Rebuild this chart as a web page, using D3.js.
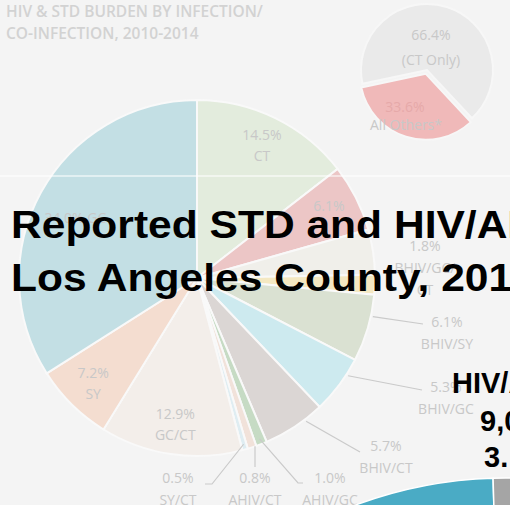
<!DOCTYPE html>
<html>
<head>
<meta charset="utf-8">
<script src="https://cdn.jsdelivr.net/npm/d3@7"></script>
<style>
  body { margin: 0; background: #f4f4f4; overflow: hidden; }
  svg { display: block; }
</style>
</head>
<body>
<svg id="scene"></svg>
<script>
const width = 510
const height = 505

// main pie, clockwise from 12 o'clock
var sliceNames = ["CT", "", "", "BHIV/GC/CT", "BHIV/SY", "BHIV/GC", "BHIV/CT", "AHIV/GC", "AHIV/CT", "SY/CT", "GC/CT", "SY", "GC"]
var sliceValues = [14.5, 6.1, 4.1, 1.8, 6.1, 5.3, 5.7, 1.0, 0.8, 0.5, 12.9, 7.2, 34.0]
var sliceColors = ["#e3ecdd", "#ecc6c6", "#f0efea", "#f4e8c2", "#dae1d2", "#cdeaef", "#dbd6d4", "#c6dbc4", "#f1e2da", "#dfedf2", "#f3eeea", "#f4ddd0", "#c3dfe4"]

// inset pie
var insetNames = ["(CT Only)", "All Others*"]
var insetValues = [66.4, 33.6]

// cropped HIV/AIDS chart at the bottom right
var hivNames = ["HIV/AIDS", "Other"]
var hivValues = [70, 30]
var hivLines = ["HIV/AIDS", "9,0", "3."]

var svg = d3.select("#scene").attr("width", width).attr("height", height)

svg.append("rect").attr("width", width).attr("height", height).attr("fill", "#f4f4f4")

// faded slide title
svg.append("text")
    .attr("x", 6).attr("y", 17)
    .style("font-family", "Open Sans").style("font-weight", 600).style("font-size", "15.5px")
    .style("fill", "#d2d2d2")
    .text("HIV & STD BURDEN BY INFECTION/")
svg.append("text")
    .attr("x", 6).attr("y", 39)
    .style("font-family", "Open Sans").style("font-weight", 600).style("font-size", "15.5px")
    .style("fill", "#d2d2d2")
    .text("CO-INFECTION, 2010-2014")

// ---- main pie
var cx = 197, cy = 278, R = 178
var pie = d3.pie().sort(null).value(function(d) { return d })
var arcs = pie(sliceValues)
var arc = d3.arc().innerRadius(0).outerRadius(R)
var g = svg.append("g").attr("transform", "translate(" + cx + "," + cy + ")")

g.selectAll("path")
    .data(arcs)
    .enter()
    .append("path")
    .attr("d", arc)
    .attr("fill", function(d, i) { return sliceColors[i] })
    .attr("stroke", "#f9f9f9")
    .attr("stroke-width", 2)

// faint slide seam
svg.append("line")
    .attr("x1", 0).attr("x2", width).attr("y1", 176).attr("y2", 176)
    .attr("stroke", "#ffffff").attr("stroke-opacity", 0.7).attr("stroke-width", 1.5)

var labelFont = function(sel) {
    sel.style("font-family", "Open Sans").style("font-size", "14px")
        .style("fill", "#c8c8c8").attr("text-anchor", "middle")
}
function pct(v) { return v.toFixed(1) + "%" }

// inside labels
var inside = [0, 1, 10, 11]
var labelArc = d3.arc().innerRadius(R * 0.83).outerRadius(R * 0.83)
inside.forEach(function(i) {
    var c = labelArc.centroid(arcs[i])
    var t = g.append("text").call(labelFont)
    if (sliceNames[i] == "") {
        t.attr("x", c[0]).attr("y", c[1]).text(pct(sliceValues[i]))
    } else {
        t.attr("x", c[0]).attr("y", c[1] - 5).text(pct(sliceValues[i]))
        g.append("text").call(labelFont).attr("x", c[0]).attr("y", c[1] + 16).text(sliceNames[i])
    }
})
// GC label sits on one line
var gcPos = d3.arc().innerRadius(R * 0.78).outerRadius(R * 0.78).centroid(arcs[12])
g.append("text").call(labelFont).attr("x", gcPos[0]).attr("y", gcPos[1] + 12)
    .text(pct(sliceValues[12]) + " " + sliceNames[12])

// outside labels with leader lines: [slice, label x, first baseline, elbow x, elbow y]
var outside = [
    [3, 425, 251, null, null],
    [4, 447, 327, 423, 324],
    [5, 446, 392, 422, 390],
    [6, 386, 451, 360, 452],
    [7, 330, 483, 303, 483],
    [8, 255, 483, 255, 467],
    [9, 178, 483, 205, 484]
]
outside.forEach(function(o) {
    var a = arcs[o[0]]
    var mid = (a.startAngle + a.endAngle) / 2 - (o[0] >= 4 && o[0] <= 6 ? 0.07 : 0)
    if (o[3] != null) {
        var r0 = o[0] >= 7 ? R * 0.97 : R + 2
        var sx = cx + Math.sin(mid) * r0, sy = cy - Math.cos(mid) * r0
        var pts = [[sx, sy], [o[3], o[4]]]
        if (o[0] == 7) pts = [[sx, sy], [298, 483], [o[3], o[4]]]
        if (o[0] == 9) pts = [[sx, sy], [212, 484], [o[3], o[4]]]
        if (o[0] == 8) pts = [[o[1], sy + 4], [o[3], o[4]]]
        svg.append("path")
            .attr("d", d3.line()(pts))
            .attr("fill", "none").attr("stroke", "#cacaca").attr("stroke-width", 1.2)
    }
    svg.append("text").call(labelFont).attr("x", o[1]).attr("y", o[2]).text(pct(sliceValues[o[0]]))
    var parts = sliceNames[o[0]] == "BHIV/GC/CT" ? ["BHIV/GC/", "CT"] : [sliceNames[o[0]]]
    parts.forEach(function(p, k) {
        svg.append("text").call(labelFont).attr("x", o[1]).attr("y", o[2] + 22 * (k + 1)).text(p)
    })
})

// ---- inset pie
var icx = 427, icy = 70, iR = 66
var ipie = d3.pie().sort(null).value(function(d) { return d })
    .startAngle(258 * Math.PI / 180).endAngle((258 + 360) * Math.PI / 180)
var iarcs = ipie(insetValues)
var iarc = d3.arc().innerRadius(0).outerRadius(iR)
var ig = svg.append("g").attr("transform", "translate(" + icx + "," + icy + ")")
ig.selectAll("path")
    .data(iarcs)
    .enter()
    .append("path")
    .attr("d", iarc)
    .attr("transform", function(d, i) {
        if (i == 0) return null
        var m = (d.startAngle + d.endAngle) / 2
        return "translate(" + (Math.sin(m) * 4) + "," + (-Math.cos(m) * 4) + ")"
    })
    .attr("fill", function(d, i) { return i == 0 ? "#eaeaea" : "#f0b9b9" })
    .attr("stroke", "#f7f7f7").attr("stroke-width", 2)

svg.append("text").call(labelFont).attr("x", 431).attr("y", 40).text(pct(insetValues[0]))
svg.append("text").call(labelFont).attr("x", 431).attr("y", 65).text(insetNames[0])
svg.append("text").call(labelFont).style("fill", "#e6a9a9").attr("x", 405).attr("y", 112).text(pct(insetValues[1]))
svg.append("text").call(labelFont).attr("x", 406).attr("y", 130).text(insetNames[1])

// ---- foreground slide title
var title = svg.append("g").attr("transform", "translate(11,0) scale(1.12,1)")
title.append("text").attr("x", 0).attr("y", 238)
    .style("font-family", "Liberation Sans, Arial").style("font-weight", "bold").style("font-size", "38px")
    .style("fill", "#000")
    .text("Reported STD and HIV/AIDS")
title.append("text").attr("x", 0).attr("y", 291)
    .style("font-family", "Liberation Sans, Arial").style("font-weight", "bold").style("font-size", "38px")
    .style("fill", "#000")
    .text("Los Angeles County, 2014")

// ---- cropped HIV/AIDS pie
var hcx = 505, hcy = 905, hR = 427
var hpie = d3.pie().sort(null).value(function(d) { return d })
    .startAngle(-1.6 * Math.PI / 180 - 2 * Math.PI * 0.7).endAngle(-1.6 * Math.PI / 180 + 2 * Math.PI * 0.3)
var hg = svg.append("g").attr("transform", "translate(" + hcx + "," + hcy + ")")
hg.selectAll("path")
    .data(hpie(hivValues))
    .enter()
    .append("path")
    .attr("d", d3.arc().innerRadius(0).outerRadius(hR))
    .attr("fill", function(d, i) { return i == 0 ? "#4aabc5" : "#a5a5a5" })
    .attr("stroke", "#ffffff").attr("stroke-width", 1.5)

var hivY = [393, 431, 467]
hivLines.forEach(function(t, i) {
    svg.append("text")
        .attr("x", i == 0 ? 452 : (i == 1 ? 480 : 484)).attr("y", hivY[i])
        .style("font-family", "Liberation Sans, Arial").style("font-weight", "bold").style("font-size", "29px")
        .style("fill", "#000")
        .text(t)
})
</script>
</body>
</html>
